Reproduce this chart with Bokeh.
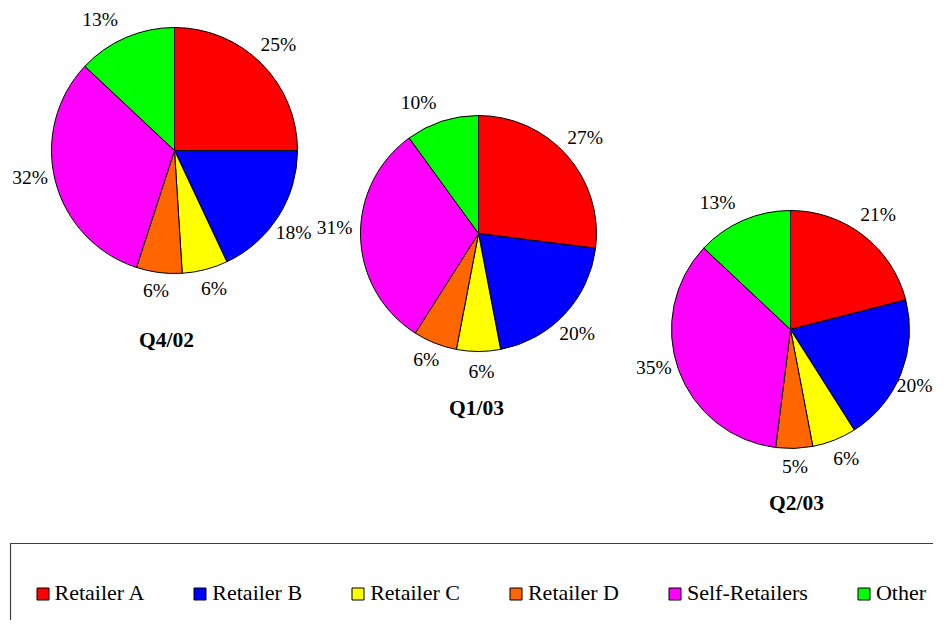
import numpy as np
from bokeh.plotting import figure
from bokeh.models import Range1d, Legend, LegendItem
from bokeh.core.properties import value
from bokeh.embed import file_html
from bokeh.resources import INLINE

# ---- data ----
categories = ["Retailer A", "Retailer B", "Retailer C", "Retailer D", "Self-Retailers", "Other"]
colors = ["#FF0000", "#0000FF", "#FFFF00", "#FF6600", "#FF00FF", "#00FF00"]
periods = ["Q4/02", "Q1/03", "Q2/03"]
q4_02 = [25, 18, 6, 6, 32, 13]
q1_03 = [27, 20, 6, 6, 31, 10]
q2_03 = [21, 20, 6, 5, 35, 13]
shares = [q4_02, q1_03, q2_03]

# ---- layout (pixels from the picture's top-left, y downwards) ----
W, H = 933, 620
pie_cx = [174, 478, 790]
pie_cy = [150, 233, 329]
pie_r = [123, 118, 119]
title_x = [166, 476, 796]
title_y = [339, 407, 502]
label_gap = 24
label_lift = 4
label_nudge_x = [0, -5, 3, 0, -2, -16]   # per category, horizontal nudge of labels
label_nudge_y = [2, 7, 0, -2, -6, 8]     # per category, vertical nudge (downwards)
LABEL_PX = 19.5
FONT = "Liberation Serif"

p = figure(width=W, height=H, x_range=Range1d(0, W), y_range=Range1d(0, H),
           output_backend="svg", toolbar_location=None, min_border=0,
           x_axis_location=None, y_axis_location=None)
p.grid.visible = False
p.outline_line_color = None
p.background_fill_color = "white"

# legend frame (only left and top edges visible, the rest runs off the picture)
p.quad(left=[10], right=[W + 60], top=[H - 543], bottom=[-60],
       fill_color=None, line_color="#404040", line_width=1.2)

cum_after = [np.cumsum(s) for s in shares]
cum_before = [np.concatenate([[0], np.cumsum(s)[:-1]]) for s in shares]

items = []
for j, cat in enumerate(categories):
    ys = [H - c for c in pie_cy]
    starts = [np.pi / 2 - 2 * np.pi * cum_before[i][j] / 100 for i in range(len(periods))]
    ends = [np.pi / 2 - 2 * np.pi * cum_after[i][j] / 100 for i in range(len(periods))]
    r = p.wedge(x=pie_cx, y=ys, radius=pie_r, radius_units="screen",
                start_angle=starts, end_angle=ends, direction="clock",
                fill_color=colors[j], line_color="black", line_width=1)
    items.append(LegendItem(label=cat, renderers=[r]))

# percentage labels
lx, ly, lt = [], [], []
for i in range(len(periods)):
    for j in range(len(categories)):
        txt = f"{shares[i][j]}%"
        half_w = LABEL_PX * (0.5 * (len(txt) - 1) + 0.833) / 2
        mid = 2 * np.pi * (cum_before[i][j] + shares[i][j] / 2) / 100
        d = pie_r[i] + label_gap
        x = pie_cx[i] + d * np.sin(mid) + label_nudge_x[j]
        x = min(x, W - half_w - 1)
        y = pie_cy[i] - d * np.cos(mid) - label_lift + label_nudge_y[j]
        lx.append(x)
        ly.append(H - y)
        lt.append(txt)
p.text(x=lx, y=ly, text=lt, text_align="center", text_baseline="middle",
       text_font=value(FONT), text_font_size=f"{LABEL_PX}px", text_color="black")

# pie titles
p.text(x=title_x, y=[H - t for t in title_y], text=periods,
       text_align="center", text_baseline="middle",
       text_font=value(FONT), text_font_size="21.5px", text_font_style="bold",
       text_color="black")

legend = Legend(items=items, orientation="horizontal", location=(34.5, 14),
                spacing=48, label_standoff=5, glyph_width=15, glyph_height=15,
                padding=0, margin=0, border_line_alpha=0, background_fill_alpha=0,
                label_text_font=FONT, label_text_font_size="22px",
                label_text_color="black")
p.add_layout(legend)

open("out.html", "w").write(file_html(p, INLINE))
